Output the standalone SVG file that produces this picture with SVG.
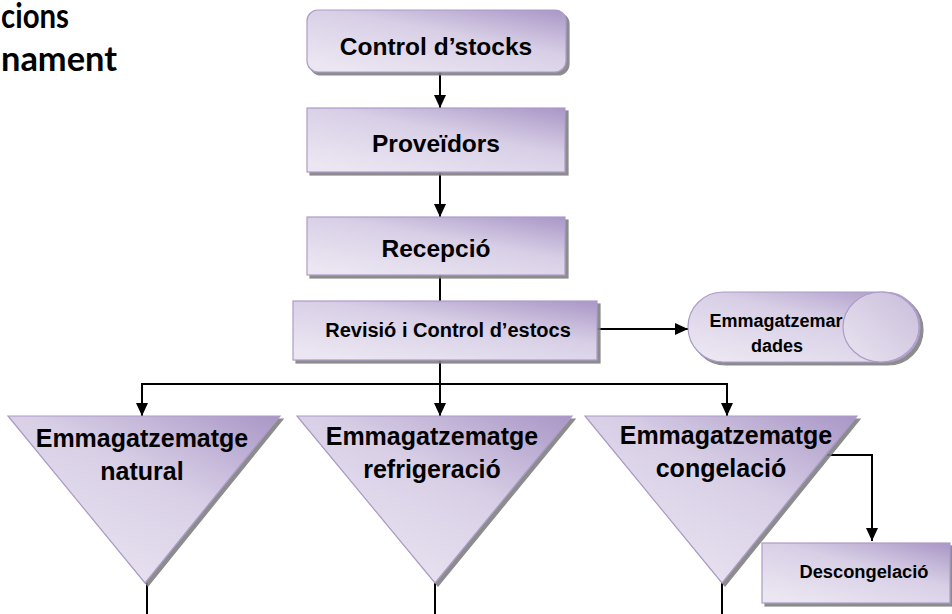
<svg xmlns="http://www.w3.org/2000/svg" width="952" height="614" viewBox="0 0 952 614">
<defs>
<linearGradient id="g" x1="1" y1="0" x2="0.2" y2="1">
<stop offset="0" stop-color="#a996c6"/>
<stop offset="0.45" stop-color="#d8cfe6"/>
<stop offset="1" stop-color="#ebe6f2"/>
</linearGradient>
<linearGradient id="gc" x1="1" y1="0" x2="0" y2="1">
<stop offset="0" stop-color="#c9bddb"/>
<stop offset="1" stop-color="#e9e4f0"/>
</linearGradient>
<filter id="sh" x="-10%" y="-10%" width="130%" height="130%">
<feDropShadow dx="3" dy="3" stdDeviation="0.7" flood-color="#7f7f7f" flood-opacity="0.9"/>
</filter>
<marker id="ah" viewBox="0 0 13 12" markerWidth="13" markerHeight="12" refX="13" refY="6" orient="auto" markerUnits="userSpaceOnUse">
<path d="M0,0 L13,6 L0,12 z" fill="#000"/>
</marker>
</defs>
<style>
.n{fill:url(#g);stroke:#ac9cc8;stroke-width:1.2;filter:url(#sh)}
.t{font-family:"Liberation Sans",Arial,sans-serif;font-weight:bold;fill:#000;text-anchor:middle}
.h{font-family:Lato,"Liberation Sans",Arial,sans-serif;font-weight:bold;fill:#000;font-size:34px}
.c{fill:none;stroke:#000;stroke-width:2}
.a{marker-end:url(#ah)}
</style>
<g id="title">
<text class="h" x="1" y="28" textLength="68" lengthAdjust="spacingAndGlyphs">cions</text>
<text class="h" x="1" y="71" textLength="116" lengthAdjust="spacingAndGlyphs">nament</text>
</g>
<g id="connectors">
<line class="c a" x1="440" y1="72" x2="440" y2="108"/>
<line class="c a" x1="440" y1="172" x2="440" y2="217"/>
<line class="c" x1="440" y1="275" x2="440" y2="301"/>
<line class="c a" x1="597" y1="329" x2="688" y2="329"/>
<line class="c" x1="440" y1="360" x2="440" y2="384"/>
<polyline class="c" points="142,384 727,384"/>
<line class="c a" x1="142" y1="383" x2="142" y2="416"/>
<line class="c a" x1="440" y1="383" x2="440" y2="416"/>
<line class="c a" x1="727" y1="383" x2="727" y2="416"/>
<polyline class="c a" points="827,455 872,455 872,541"/>
<line class="c" x1="147" y1="583" x2="147" y2="614"/>
<line class="c" x1="435" y1="583" x2="435" y2="614"/>
<line class="c" x1="722" y1="583" x2="722" y2="614"/>
</g>
<g id="control-stocks">
<rect class="n" x="307" y="10" width="259" height="62" rx="11"/>
<text class="t" x="436" y="55" font-size="24.5">Control d’stocks</text>
</g>
<g id="proveidors">
<rect class="n" x="307" y="108" width="258" height="64"/>
<text class="t" x="436" y="152" font-size="24.5">Proveïdors</text>
</g>
<g id="recepcio">
<rect class="n" x="307" y="217" width="258" height="58"/>
<text class="t" x="436" y="257" font-size="24.5">Recepció</text>
</g>
<g id="revisio">
<rect class="n" x="293" y="301" width="304" height="59"/>
<text class="t" x="448" y="337" font-size="20">Revisió i Control d’estocs</text>
</g>
<g id="emmagatzemar-dades">
<path class="n" d="M723,292 H885 A35,35 0 0 1 885,362 H723 A35,35 0 0 1 723,292 Z"/>
<ellipse cx="881" cy="327" rx="38" ry="35" fill="url(#gc)" stroke="#ac9cc8" stroke-width="1.2"/>
<text class="t" x="776" y="327" font-size="18">Emmagatzemar</text>
<text class="t" x="777" y="352" font-size="18">dades</text>
</g>
<g id="natural">
<polygon class="n" points="8,416 280,416 145,583"/>
<text class="t" x="142" y="447" font-size="25">Emmagatzematge</text>
<text class="t" x="142" y="480" font-size="25">natural</text>
</g>
<g id="refrigeracio">
<polygon class="n" points="297,416 572,416 435,583"/>
<text class="t" x="432" y="445" font-size="25">Emmagatzematge</text>
<text class="t" x="432" y="478" font-size="25">refrigeració</text>
</g>
<g id="congelacio">
<polygon class="n" points="585,416 857,416 722,583"/>
<text class="t" x="726" y="444" font-size="25">Emmagatzematge</text>
<text class="t" x="721" y="477" font-size="25">congelació</text>
</g>
<g id="descongelacio">
<rect class="n" x="762" y="543" width="188" height="60"/>
<text class="t" x="864" y="578" font-size="18.3">Descongelació</text>
</g>
</svg>
